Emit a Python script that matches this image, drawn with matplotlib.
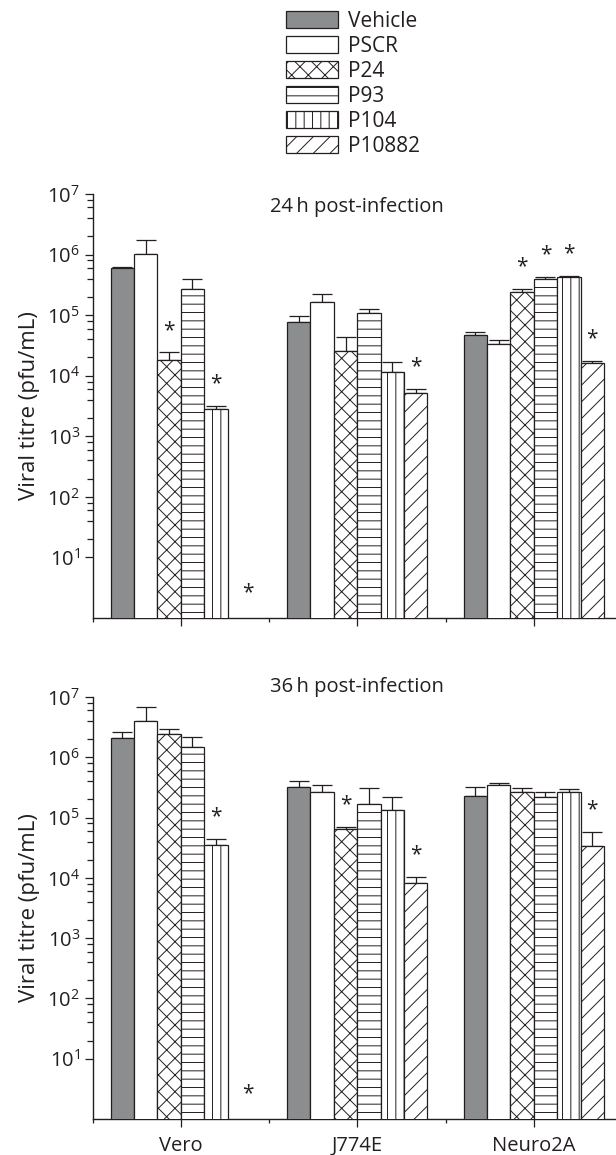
import numpy as np
import matplotlib
matplotlib.use("Agg")
import matplotlib.pyplot as plt
from matplotlib.ticker import FixedLocator, NullFormatter, LogFormatterSciNotation

plt.rcParams["font.family"] = ["Open Sans", "DejaVu Sans"]
plt.rcParams["hatch.linewidth"] = 0.7

INK = "#231f20"

cell_lines = ["Vero", "J774E", "Neuro2A"]
treatments = ["Vehicle", "PSCR", "P24", "P93", "P104", "P10882"]

# mean titre (pfu/mL) per treatment, one value per cell line
titre_24h = [
    [5.9e5, 7.6e4, 4.7e4],
    [1.02e6, 1.66e5, 3.4e4],
    [1.85e4, 2.57e4, 2.37e5],
    [2.66e5, 1.07e5, 3.94e5],
    [2.8e3, 1.16e4, 4.3e5],
    [0, 5.25e3, 1.6e4],
]
err_24h = [
    [3.5e4, 2.2e4, 6e3],
    [7e5, 5.4e4, 4.7e3],
    [5.7e3, 1.8e4, 3.5e4],
    [1.24e5, 2e4, 2.6e4],
    [3.4e2, 5.3e3, 1e4],
    [0, 7.5e2, 1.5e3],
]
sig_24h = [
    [False, False, False],
    [False, False, False],
    [True, False, True],
    [False, False, True],
    [True, False, True],
    [True, True, True],
]

titre_36h = [
    [2.11e6, 3.26e5, 2.31e5],
    [4.05e6, 2.62e5, 3.47e5],
    [2.4e6, 6.4e4, 2.69e5],
    [1.47e6, 1.68e5, 2.17e5],
    [3.56e4, 1.32e5, 2.63e5],
    [0, 8.1e3, 3.38e4],
]
err_36h = [
    [5.5e5, 8.4e4, 9.5e4],
    [2.85e6, 8.5e4, 3.3e4],
    [5.8e5, 7e3, 4.5e4],
    [7e5, 1.38e5, 4.6e4],
    [8.4e3, 8.5e4, 3.7e4],
    [0, 2.4e3, 2.46e4],
]
sig_36h = [
    [False, False, False],
    [False, False, False],
    [False, True, False],
    [False, False, False],
    [True, False, False],
    [True, True, True],
]

faces = ["#8c8d8f", "white", "white", "white", "white", "white"]
hatches = [None, None, "xx", "--", "||", "//"]


def draw_panel(ax, titre, err, sig, title, title_y, show_labels):
    ax.set_yscale("log")
    x = np.arange(len(cell_lines))
    w = 0.1326
    ymin = 1
    for i, name in enumerate(treatments):
        vals = np.array(titre[i], dtype=float)
        up = np.array(err[i], dtype=float)
        xs = x + (i - 2.5) * w
        ax.bar(xs, vals, w, color=faces[i], edgecolor=INK, hatch=hatches[i],
               linewidth=0.9, label=name, zorder=3)
        ok = vals > 0
        ax.errorbar(xs[ok], vals[ok], yerr=[np.zeros(ok.sum()), up[ok]], fmt="none",
                    ecolor=INK, elinewidth=0.9, capsize=7.5, capthick=0.9, zorder=2)
        for j in range(len(cell_lines)):
            if not sig[i][j]:
                continue
            if vals[j] > 0:
                top, dx, lift = vals[j] + up[j], 0, 16
            else:
                # no plaques recovered: star sits just above the baseline
                top, dx, lift = ymin, 6, 18
            ax.annotate("*", (xs[j], top), xytext=(dx, lift), textcoords="offset points",
                        ha="center", va="center", fontsize=15, color=INK)

    ax.set_xlim(-0.5, 2.5)
    ax.set_ylim(ymin, 1e7)
    ax.set_xticks(x)
    ax.set_xticks([-0.5, 0.5, 1.5, 2.5], minor=True)
    if show_labels:
        ax.set_xticklabels(cell_lines)
    else:
        ax.set_xticklabels([])
    ax.yaxis.set_major_locator(FixedLocator([10.0 ** k for k in range(1, 8)]))
    ax.yaxis.set_major_formatter(LogFormatterSciNotation())
    ax.yaxis.set_minor_locator(FixedLocator([m * 10.0 ** k for k in range(1, 7) for m in (2, 4, 6, 8)]))
    ax.yaxis.set_minor_formatter(NullFormatter())
    ax.tick_params(axis="both", which="major", length=6, width=0.9, color=INK,
                   labelsize=14.5, labelcolor=INK)
    ax.tick_params(axis="y", which="minor", length=4, width=0.9, color=INK)
    ax.tick_params(axis="x", which="minor", length=3, width=0.9, color=INK)
    ax.tick_params(axis="x", which="major", pad=6)
    ax.tick_params(axis="y", which="major", pad=3)
    for side in ("top", "right"):
        ax.spines[side].set_visible(False)
    for side in ("left", "bottom"):
        ax.spines[side].set_color(INK)
        ax.spines[side].set_linewidth(1.0)
    ax.set_ylabel("Viral titre (pfu/mL)", fontsize=16, color=INK, labelpad=5)
    ax.text(0.5, title_y, title, transform=ax.transAxes, ha="center", va="center",
            fontsize=14.5, color=INK)


fig = plt.figure(figsize=(6.16, 11.55), dpi=100)
ax1 = fig.add_axes([92.5 / 616, 1 - 618 / 1155, 529.5 / 616, 424 / 1155])
ax2 = fig.add_axes([92.5 / 616, 1 - 1119 / 1155, 529.5 / 616, 422 / 1155])

draw_panel(ax1, titre_24h, err_24h, sig_24h, "24\u2009h post-infection", 0.969, False)
draw_panel(ax2, titre_36h, err_36h, sig_36h, "36\u2009h post-infection", 1.024, True)

handles, labels = ax1.get_legend_handles_labels()
fig.legend(handles, labels, loc="upper left", bbox_to_anchor=(286 / 616, 1 - 11 / 1155),
           frameon=False, fontsize=15, handlelength=2.5, handleheight=0.87,
           handletextpad=0.5, labelspacing=0.19, borderpad=0, borderaxespad=0,
           labelcolor=INK)

fig.savefig("out.png", dpi=100)
